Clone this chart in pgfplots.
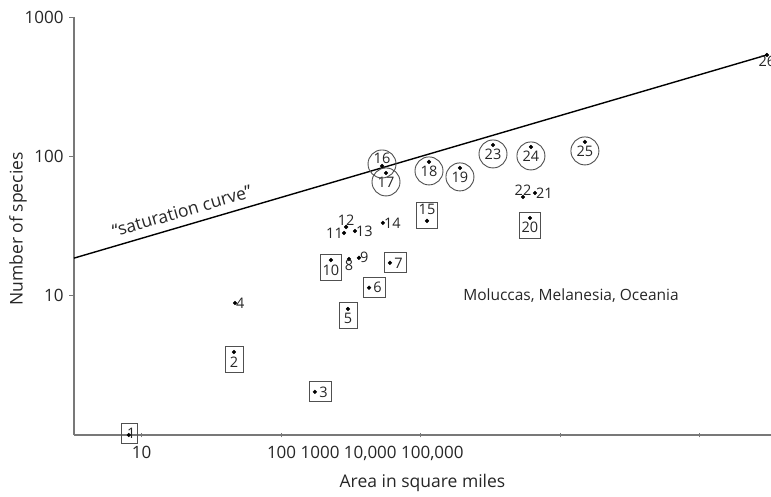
\documentclass[border=0pt]{standalone}
\usepackage{pgfplots}
\pgfplotsset{compat=1.18}
\usepackage{fontspec}
\setmainfont{Open Sans}
\definecolor{axgray}{RGB}{120,120,120}
\definecolor{boxgray}{RGB}{80,80,80}
\newcommand{\numfont}{\fontsize{14.5}{17}\selectfont}
\newcommand{\labfont}{\fontsize{17.5}{20}\selectfont}
\newcommand{\tickfont}{\fontsize{17}{20}\selectfont}
\newcommand{\notefont}{\fontsize{15.5}{18}\selectfont}
\begin{document}
\begin{tikzpicture}[x=1pt,y=1pt]
\useasboundingbox (0,0) rectangle (771,496);
\begin{axis}[
  at={(74pt,61pt)}, anchor=south west,
  width=697pt, height=418pt, scale only axis,
  xmode=log, ymode=log,
  xmin=3.28, xmax=326000, ymin=1, ymax=1000,
  clip=false,
  axis lines=left,
  axis line style={-, draw=axgray, line width=1.4pt},
  xtick={10,100,1000,10000,100000},
  xticklabels={10,{\makebox[0pt][l]{\hspace*{-14pt}100 1000 10,000 100,000}},{},{},{}},
  ytick={10,100,1000}, yticklabels={10,100,1000},
  xminorticks=false, yminorticks=false,
  tick style={draw=axgray, line width=0.6pt},
  major tick length=5pt,
  xtick align=center, ytick align=outside,
  tick label style={font=\tickfont, text=black!85},
  xticklabel style={yshift=-5pt},
  yticklabel style={xshift=-2pt},
  xlabel={Area in square miles}, ylabel={Number of species},
  label style={font=\labfont, text=black!85},
  xlabel style={at={(rel axis cs:0.5,-0.1148)}, anchor=center},
  ylabel style={at={(rel axis cs:-0.0803,0.493)}, anchor=center},
  point meta=explicit symbolic,
]
% saturation curve
\addplot[black, line width=1.4pt] coordinates {(3.28,18.6) (304800,534)};
% plain points, label right
\addplot[only marks, mark=*, mark size=1.9pt, black, nodes near coords,
  every node near coord/.append style={anchor=west, font=\numfont, inner sep=1pt, text=black!85}]
  coordinates {(46.8,8.86)[4] (362,18.7)[9] (339,29.1)[13] (538,33.3)[14] (6622,54.6)[21]};
% plain, label below
\addplot[only marks, mark=*, mark size=1.9pt, black, nodes near coords,
  every node near coord/.append style={anchor=north, font=\numfont, inner sep=1pt, text=black!85}]
  coordinates {(307,18.3)[8] (304800,534)[26]};
% plain, label above
\addplot[only marks, mark=*, mark size=1.9pt, black, nodes near coords,
  every node near coord/.append style={anchor=south, font=\numfont, inner sep=1pt, text=black!85}]
  coordinates {(293,31.1)[12] (5433,51.1)[22]};
% plain, label left
\addplot[only marks, mark=*, mark size=1.9pt, black, nodes near coords,
  every node near coord/.append style={anchor=east, font=\numfont, inner sep=1pt, text=black!85}]
  coordinates {(283,28.2)[11]};
% boxed, label right of dot
\addplot[only marks, mark=*, mark size=1.9pt, black, nodes near coords={\hspace*{6pt}\pgfplotspointmeta},
  every node near coord/.append style={anchor=center, xshift=5.5pt, draw=boxgray, line width=0.9pt,
    minimum width=22pt, minimum height=20pt, inner sep=1pt, font=\numfont, text=black!85}]
  coordinates {(175,2.04)[3] (428,11.4)[6] (604,17.2)[7]};
\addplot[only marks, mark=*, mark size=1.9pt, black, nodes near coords={\hspace*{3pt}\pgfplotspointmeta},
  every node near coord/.append style={anchor=center, xshift=1pt, yshift=2pt, draw=boxgray, line width=0.9pt,
    minimum width=16pt, minimum height=20pt, inner sep=1pt, font=\numfont, text=black!85}]
  coordinates {(8.1,1)[1]};
% boxed, label below dot
\addplot[only marks, mark=*, mark size=1.9pt, black, nodes near coords,
  every node near coord/.append style={anchor=center, yshift=-7pt, draw=boxgray, line width=0.9pt,
    text height=16pt, text depth=0pt,
    minimum width=18pt, minimum height=26pt, inner xsep=2pt, inner ysep=1pt, font=\numfont, text=black!85}]
  coordinates {(46,3.94)[2] (302,8.03)[5] (228,18.0)[10] (6095,36.1)[20]};
% boxed, label above dot
\addplot[only marks, mark=*, mark size=1.9pt, black, nodes near coords,
  every node near coord/.append style={anchor=center, yshift=5.5pt, draw=boxgray, line width=0.9pt,
    text height=10pt, text depth=11pt,
    minimum width=18pt, minimum height=26pt, inner xsep=2pt, inner ysep=1pt, font=\numfont, text=black!85}]
  coordinates {(1114,34.4)[15]};
% circled, label below dot
\addplot[only marks, mark=*, mark size=1.9pt, black, nodes near coords,
  every node near coord/.append style={anchor=center, yshift=-9pt, circle, draw=boxgray, line width=0.9pt,
    minimum size=28pt, inner sep=0pt, font=\numfont, text=black!85}]
  coordinates {(566,76.0)[17] (1151,91.2)[18] (1919,82.6)[19] (3311,120.7)[23] (6194,116.8)[24] (15100,126.9)[25]};
% circled, label above dot
\addplot[only marks, mark=*, mark size=1.9pt, black, nodes near coords,
  every node near coord/.append style={anchor=center, yshift=2pt, circle, draw=boxgray, line width=0.9pt,
    text height=10pt, text depth=10pt,
    minimum size=28pt, inner sep=0pt, font=\numfont, text=black!85}]
  coordinates {(530,85.3)[16]};
\node[rotate=16.3, font=\labfont, text=black!85] at (axis cs:19.5,40.5) {“saturation curve”};
\node[font=\notefont, text=black!85] at (axis cs:12000,9.95) {Moluccas, Melanesia, Oceania};
\end{axis}
\end{tikzpicture}
\end{document}
